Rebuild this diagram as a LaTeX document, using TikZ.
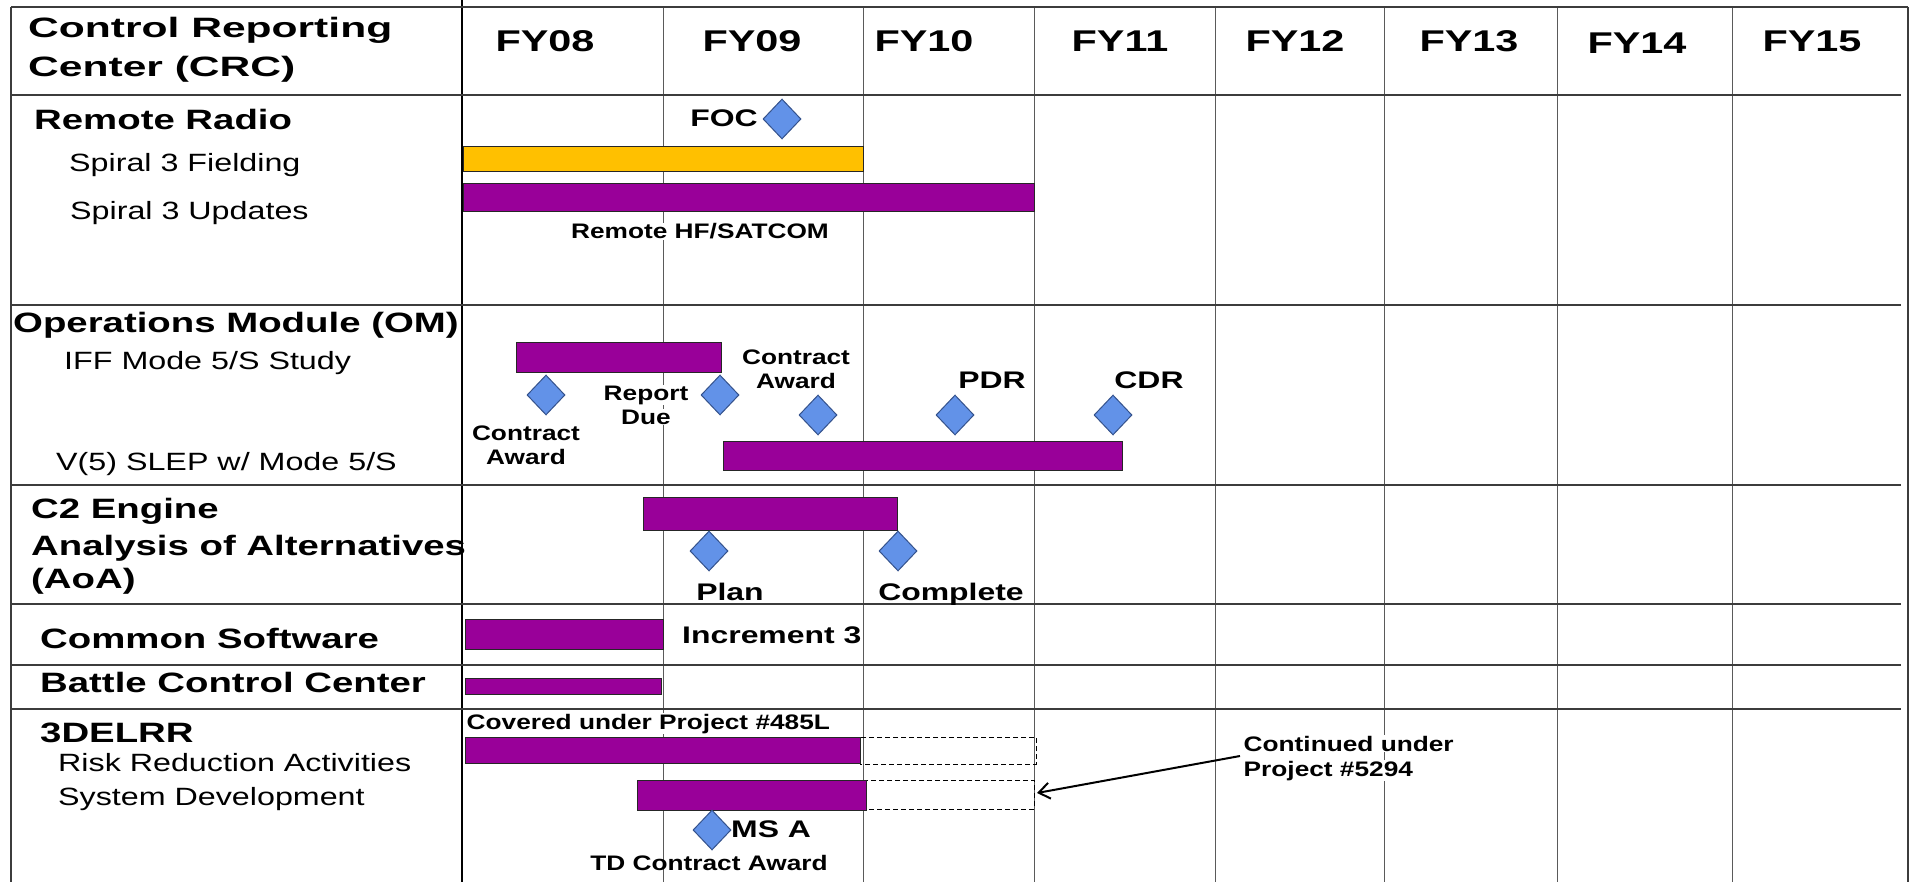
\documentclass[tikz,border=0pt]{standalone}
\usepackage{fontspec}
\usetikzlibrary{shapes.geometric,arrows.meta}
\newfontfamily\fCRC[FakeStretch=1.52]{Liberation Sans}
\newfontfamily\fA[FakeStretch=1.37]{Liberation Sans}
\newfontfamily\fFY[FakeStretch=1.38]{Liberation Sans}
\newfontfamily\fB[FakeStretch=1.29]{Liberation Sans}
\newfontfamily\fC[FakeStretch=1.25]{Liberation Sans}
\newfontfamily\fD[FakeStretch=1.33]{Liberation Sans}
\definecolor{barpurple}{RGB}{153,0,153}
\definecolor{baryellow}{RGB}{255,192,0}
\definecolor{msfill}{RGB}{98,146,232}
\definecolor{msline}{RGB}{52,82,140}
\definecolor{gridc}{RGB}{90,90,90}
\definecolor{rowc}{RGB}{60,60,60}
\tikzset{
  gridline/.style={draw=gridc, line width=1pt},
  sepline/.style={draw=black, line width=1.4pt},
  frameline/.style={draw=rowc, line width=1.6pt},
  rowline/.style={draw=rowc, line width=2pt},
  pbar/.style={draw=black!85, line width=1pt, fill=barpurple},
  ybar/.style={draw=black!85, line width=1pt, fill=baryellow},
  ext/.style={draw=black, line width=1pt, dash pattern=on 5pt off 3pt},
  ms/.style={diamond, draw=msline, fill=msfill, line width=1pt, minimum width=38pt, minimum height=40pt, inner sep=0pt},
  tCRC/.style={font=\fCRC\bfseries\fontsize{28}{32}\selectfont, anchor=base west, inner sep=0pt},
  tFY/.style={font=\fFY\bfseries\fontsize{30}{34}\selectfont, anchor=base, inner sep=0pt},
  tA/.style={font=\fA\bfseries\fontsize{28}{32}\selectfont, anchor=base west, inner sep=0pt},
  tB/.style={font=\fB\fontsize{25}{29}\selectfont, anchor=base west, inner sep=0pt},
  tC/.style={font=\fC\bfseries\fontsize{21}{25}\selectfont, anchor=base, inner sep=0pt},
  tD/.style={font=\fD\bfseries\fontsize{24}{28}\selectfont, anchor=base, inner sep=0pt},
  blank/.style={fill=white, inner xsep=1.5pt, inner ysep=1pt},
  callout/.style={draw=black, line width=2pt, -{Straight Barb[length=11pt,width=16pt,line width=2pt]}}
}
\begin{document}
\begin{tikzpicture}[x=1pt,y=-1pt]
\useasboundingbox (0,0) rectangle (1913,882);
\fill[white] (0,0) rectangle (1913,882);

% grid
\foreach \x in {663,863,1034,1215,1384,1557,1732} \draw[gridline] (\x,7) -- (\x,882);
\draw[sepline] (462,0) -- (462,882);
\draw[frameline] (11,7) -- (11,882);
\draw[frameline] (1908,7) -- (1908,882);
\draw[frameline] (11,7) -- (1908,7);
\foreach \y in {95,305,485,604,665,709} \draw[rowline] (11,\y) -- (1901,\y);

% header
\node[tCRC] (crcA) at (28,38) {Control Reporting};
\node[tCRC] (crcB) at (28,77) {Center (CRC)};
\node[tFY] (fy08) at (545,52) {FY08};
\node[tFY] (fy09) at (752,52) {FY09};
\node[tFY] (fy10) at (924,52) {FY10};
\node[tFY] (fy11) at (1120,52) {FY11};
\node[tFY] (fy12) at (1295,52) {FY12};
\node[tFY] (fy13) at (1469,52) {FY13};
\node[tFY] (fy14) at (1637,54) {FY14};
\node[tFY] (fy15) at (1812,52) {FY15};

% row labels
\node[tA] (rr) at (34,130) {Remote Radio};
\node[tB] (sf) at (69,172) {Spiral 3 Fielding};
\node[tB] (su) at (70,220) {Spiral 3 Updates};
\node[tA] (om) at (13,333) {Operations Module (OM)};
\node[tB] (iff) at (64,369) {IFF Mode 5/S Study};
\node[tB] (v5) at (56,470) {V(5) SLEP w/ Mode 5/S};
\node[tA] (c2a) at (31,518) {C2 Engine};
\node[tA] (c2b) at (31,555) {Analysis of Alternatives};
\node[tA] (c2c) at (31,588) {(AoA)};
\node[tA] (cs) at (40,648) {Common Software};
\node[tA] (bcc) at (40,692) {Battle Control Center};
\node[tA] (dl) at (40,742) {3DELRR};
\node[tB] (rra) at (58,771) {Risk Reduction Activities};
\node[tB] (sd) at (58,805) {System Development};

% dashed extensions
\draw[ext] (860,737) rectangle (1036,764);
\draw[ext] (866,780) rectangle (1034,809);

% bars
\draw[ybar] (463,147) rectangle (863,172);
\draw[pbar] (463,184) rectangle (1034,212);
\draw[pbar] (516,343) rectangle (721,372);
\draw[pbar] (723,441) rectangle (1122,470);
\draw[pbar] (643,497) rectangle (897,530);
\draw[pbar] (465,619) rectangle (663,649);
\draw[pbar] (465,678) rectangle (661,694);
\draw[pbar] (465,737) rectangle (860,763);
\draw[pbar] (637,780) rectangle (866,810);

% milestones
\node[ms] (dFOC) at (782,119) {};
\node[ms] (dCA1) at (546,395) {};
\node[ms] (dRD) at (720,395) {};
\node[ms] (dCA2) at (818,415) {};
\node[ms] (dPDR) at (955,415) {};
\node[ms] (dCDR) at (1113,415) {};
\node[ms] (dPlan) at (709,551) {};
\node[ms] (dComp) at (898,551) {};
\node[ms] (dMSA) at (712,830) {};

% milestone labels
\node[tD] (foc) at (724,127) {FOC};
\node[tC,blank] (hf) at (700,239) {Remote HF/SATCOM};
\node[tC] (ca1a) at (526,440) {Contract};
\node[tC] (ca1b) at (526,464) {Award};
\node[tC,blank] (rd1) at (646,400) {Report};
\node[tC,blank] (rd2) at (646,424) {Due};
\node[tC] (ca2a) at (796,364) {Contract};
\node[tC] (ca2b) at (796,388) {Award};
\node[tD] (pdr) at (992,388) {PDR};
\node[tD] (cdr) at (1149,388) {CDR};
\node[tD] (plan) at (730,600) {Plan};
\node[tD] (compl) at (951,600) {Complete};
\node[tD,anchor=base west] (inc) at (682,643) {Increment 3};
\node[tC,blank,anchor=base west] (cov) at (465,729) {Covered under Project \#485L};
\node[tC,blank,anchor=base west] (cont1) at (1242,751) {Continued under};
\node[tC,blank,anchor=base west] (cont2) at (1242,776) {Project \#5294};
\node[tD,anchor=base west] (msa) at (731,837) {MS A};
\node[tC] (td) at (709,870) {TD Contract Award};

% callout arrow
\coordinate (arrS) at (1240,756);
\coordinate (arrE) at (1037,793);
\draw[callout] (arrS) -- (arrE);
\end{tikzpicture}
\end{document}
